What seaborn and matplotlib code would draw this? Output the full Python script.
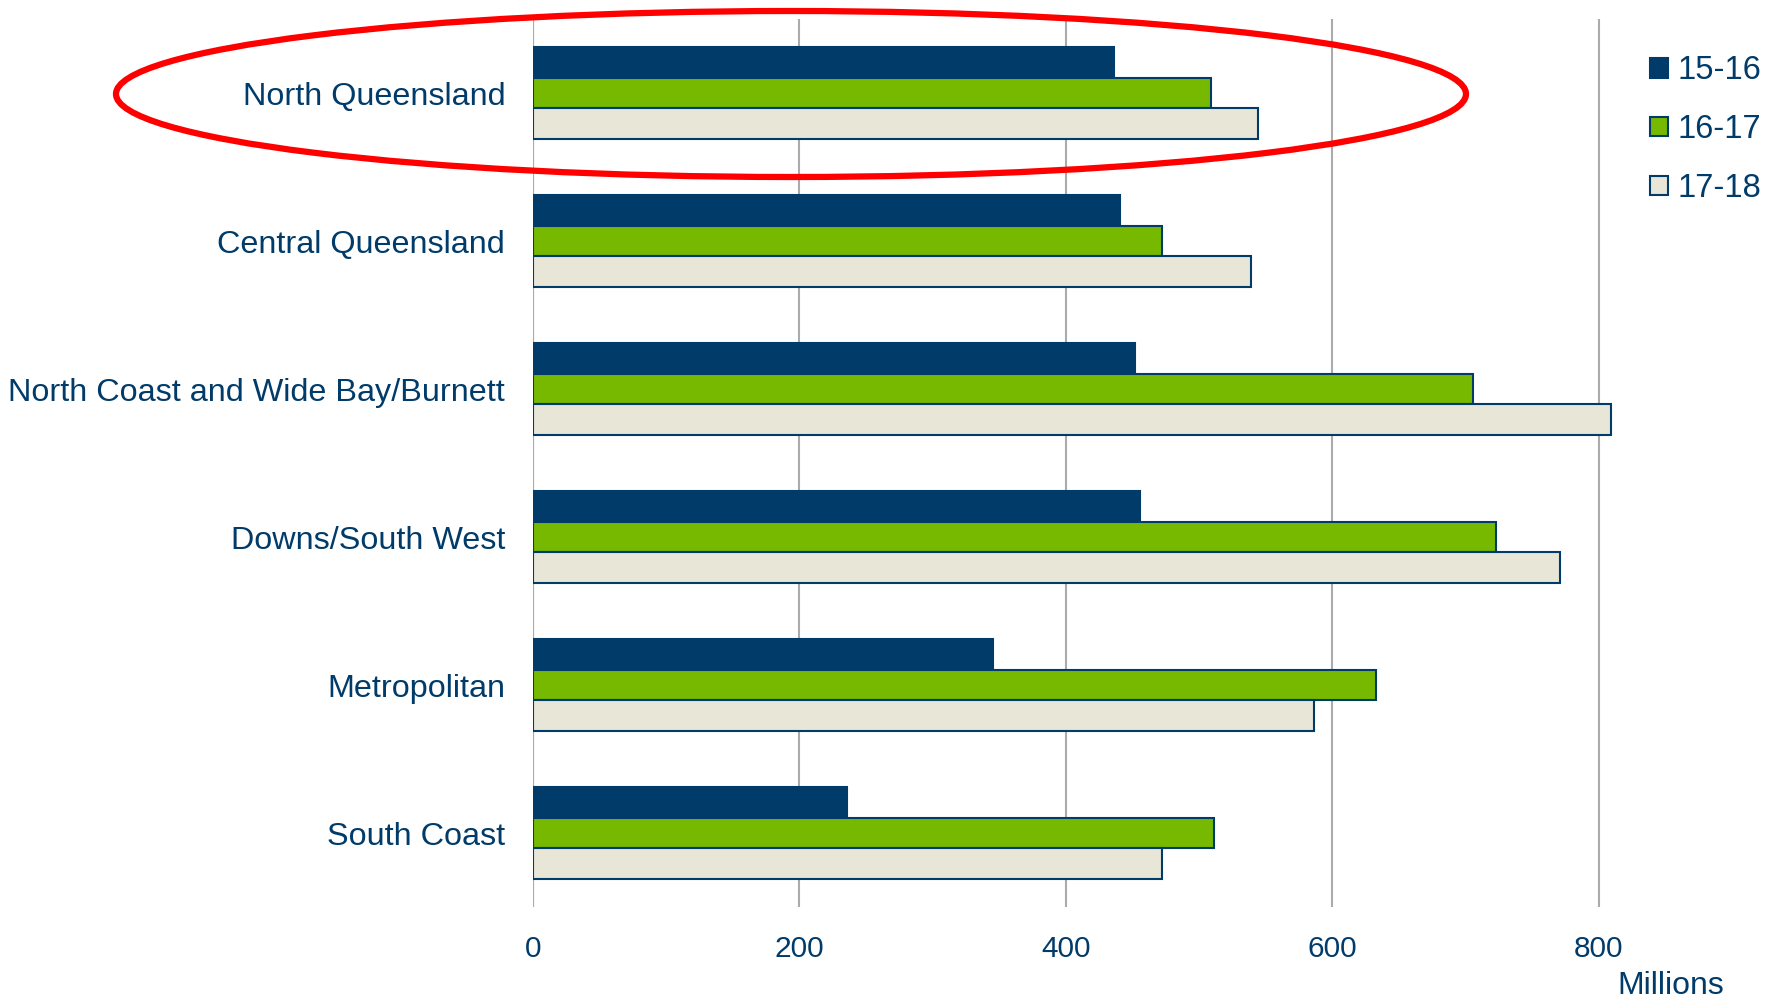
import seaborn as sns
from matplotlib import pyplot as plt
from matplotlib.patches import Ellipse, Patch
import pandas as pd

regions = ["North Queensland", "Central Queensland", "North Coast and Wide Bay/Burnett",
           "Downs/South West", "Metropolitan", "South Coast"]
years = ["15-16", "16-17", "17-18"]
v1516 = [436, 441, 452, 456, 345, 236]
v1617 = [509, 472, 706, 723, 633, 511]
v1718 = [544, 539, 809, 771, 586, 472]

navy = "#003B69"
colors = ["#003B69", "#76B900", "#E8E6D6"]

df = pd.DataFrame({
    "region": regions * 3,
    "year": [y for y in years for _ in regions],
    "value": v1516 + v1617 + v1718,
})

sns.set_style("white")
plt.rcParams["font.family"] = ["Liberation Sans", "DejaVu Sans"]

fig = plt.figure(figsize=(17.67, 10.02), dpi=100)
ax = fig.add_axes([0.3016, 0.0948, 0.6484, 0.8862])

sns.barplot(data=df, y="region", x="value", hue="year", palette=colors,
            saturation=1, orient="h", width=0.62, edgecolor=navy, linewidth=1.5,
            ax=ax, legend=False, zorder=3)

ax.set_xlim(0, 860)
ax.set_xticks([0, 200, 400, 600, 800])
ax.grid(axis="x", color="#ABABAB", linewidth=1.5, zorder=0)
ax.grid(axis="y", visible=False)
for s in ax.spines.values():
    s.set_visible(False)
ax.axvline(0, color="#ABABAB", linewidth=1.5, zorder=1)
ax.tick_params(axis="both", length=0, colors=navy)
ax.tick_params(axis="y", labelsize=23.3, pad=20)
ax.tick_params(axis="x", labelsize=21.5, pad=20)
ax.set_xlabel("")
ax.set_ylabel("")

handles = [Patch(facecolor=c, edgecolor=navy, linewidth=1.5) for c in colors]
leg = fig.legend(handles, years, loc="upper left", bbox_to_anchor=(0.917, 0.974),
                 frameon=False, fontsize=23.5, handlelength=0.55, handleheight=0.55,
                 handletextpad=0.3, labelspacing=0.85)
for t in leg.get_texts():
    t.set_color(navy)

fig.text(1724 / 1767, 0.016, "Millions", ha="right", va="center",
         fontsize=23, color=navy)

fig.patches.append(Ellipse((791 / 1767, 1 - 94 / 1002), 1350 / 1767, 166 / 1002,
                           transform=fig.transFigure, fill=False,
                           edgecolor="#FF0000", linewidth=4.5, zorder=10))

fig.savefig("out.png", dpi=100)
